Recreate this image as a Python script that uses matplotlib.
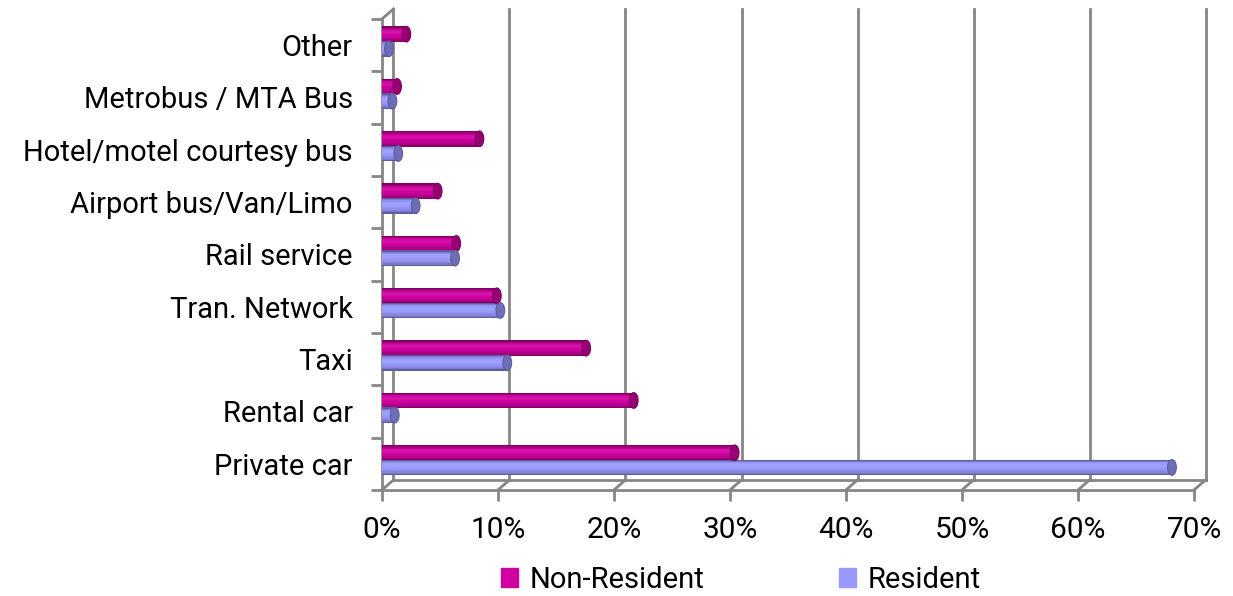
import numpy as np
import matplotlib.pyplot as plt
from matplotlib.patches import Ellipse
from matplotlib.transforms import ScaledTranslation
from matplotlib.colors import to_rgb

# survey shares, bottom to top
modes = ['Private car', 'Rental car', 'Taxi', 'Tran. Network', 'Rail service',
         'Airport bus/Van/Limo', 'Hotel/motel courtesy bus', 'Metrobus / MTA Bus', 'Other']
non_resident = [0.304, 0.217, 0.176, 0.099, 0.064, 0.048, 0.084, 0.013, 0.021]
resident = [0.681, 0.011, 0.108, 0.102, 0.063, 0.029, 0.014, 0.009, 0.006]
x_ticks = [0, 0.1, 0.2, 0.3, 0.4, 0.5, 0.6, 0.7]

nr_color = '#D000A0'
r_color = '#9999FF'
grid_color = '#868686'

plt.rcParams['font.family'] = ['Roboto', 'DejaVu Sans']

fig = plt.figure(figsize=(12.33, 5.96), dpi=100)
ax = fig.add_axes([0.3098, 0.1779, 0.6586, 0.7903])
ax.set_xlim(0, 0.7)
ax.set_ylim(-0.5, len(modes) - 0.5)

# back wall sits a little right and up from the front plane
back = ax.transData + ScaledTranslation(11.5 / 100, 10 / 100, fig.dpi_scale_trans)
ytop, ybot = len(modes) - 0.5, -0.5
for x in x_ticks:
    ax.plot([x, x], [ybot, ytop], color=grid_color, lw=2, transform=back, clip_on=False, zorder=0)
ax.plot([0, 0.7], [ybot, ybot], color=grid_color, lw=2, transform=back, clip_on=False, zorder=0)
# floor and wall edges joining front and back
for x in x_ticks:
    p0 = ax.transData.transform((x, ybot))
    p1 = back.transform((x, ybot))
    ax.plot([p0[0], p1[0]], [p0[1], p1[1]], color=grid_color, lw=2,
            transform=None, clip_on=False, zorder=0)
p0 = ax.transData.transform((0, ytop))
p1 = back.transform((0, ytop))
ax.plot([p0[0], p1[0]], [p0[1], p1[1]], color=grid_color, lw=2, transform=None, clip_on=False, zorder=0)


def shade(c, f):
    r = np.array(to_rgb(c))
    if f < 1:
        return tuple(r * f)
    return tuple(r + (1 - r) * (f - 1))


def cylinder(yc, val, h, color):
    # top to bottom brightness across the tube
    profile = [0.6, 0.8, 0.95, 1.04, 1.08, 1.06, 1.0, 0.97, 0.92, 0.86, 0.78, 0.62]
    n = len(profile)
    for j in range(n):
        ax.barh(yc + h / 2 - (j + 1) * h / n, val, height=h / n * 1.05, align='edge',
                color=shade(color, profile[j]), lw=0, zorder=3)
    cap_w = 0.0075
    ax.add_patch(Ellipse((val, yc), cap_w, h, facecolor=shade(color, 0.72),
                         edgecolor=shade(color, 0.6), lw=0.8, zorder=4))


h = 0.3
for i in range(len(modes)):
    cylinder(i + 0.21, non_resident[i], h, nr_color)
    cylinder(i - 0.07, resident[i], h, r_color)

ax.set_xticks(x_ticks)
ax.set_xticklabels([f'{int(round(v * 100))}%' for v in x_ticks], fontsize=21.5)
ax.tick_params(axis='x', length=8, width=2, color=grid_color, pad=11)

ax.set_yticks(np.arange(-0.5, len(modes), 1.0))
ax.set_yticklabels([])
ax.set_yticks(np.arange(len(modes)), minor=True)
ax.set_yticklabels(modes, minor=True, fontsize=21)
ax.tick_params(axis='y', which='major', length=8, width=2, color=grid_color)
ax.tick_params(axis='y', which='minor', length=0, pad=21)

for s in ['top', 'right']:
    ax.spines[s].set_visible(False)
for s in ['left', 'bottom']:
    ax.spines[s].set_color(grid_color)
    ax.spines[s].set_linewidth(2)

handles = [plt.Rectangle((0, 0), 1, 1, color=nr_color), plt.Rectangle((0, 0), 1, 1, color=r_color)]
fig.legend(handles, ['Non-Resident', 'Resident'], loc='center', bbox_to_anchor=(0.601, 0.027),
           ncol=2, frameon=False, fontsize=21, handlelength=0.6, handleheight=0.6,
           handletextpad=0.4, columnspacing=4.6)

fig.savefig('out.png', dpi=100)
